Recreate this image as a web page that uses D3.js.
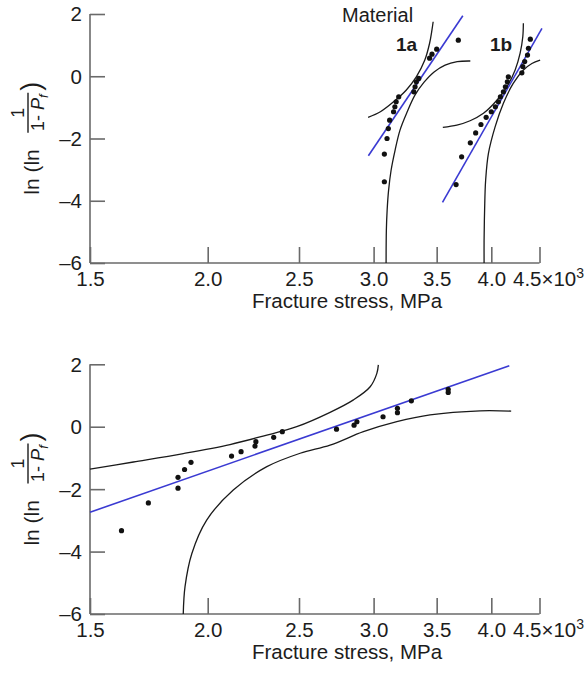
<!DOCTYPE html>
<html>
<head>
<meta charset="utf-8">
<script src="https://cdn.jsdelivr.net/npm/d3@7/dist/d3.min.js"></script>
<style>
  html, body { margin: 0; padding: 0; background: #fff; }
  svg { display: block; font-family: "Liberation Sans", Arial, Helvetica, sans-serif; }
</style>
</head>
<body>
<svg id="chart" width="587" height="675"></svg>
<script>
// Axis ticks shared by both Weibull plots
const xTickValues = [1.5, 2.0, 2.5, 3.0, 3.5, 4.0, 4.5];
const xTickLabels = ["1.5", "2.0", "2.5", "3.0", "3.5", "4.0", "4.5×10^3"];
const yTickValues = [-6, -4, -2, 0, 2];
const yTickLabels = ["–6", "–4", "–2", "0", "2"];
const xTitle = "Fracture stress, MPa";

// Upper plot: material 1a (fracture stress ×10³ MPa, ln ln 1/(1-Pf))
const stress1a = [3.08, 3.08, 3.10, 3.11, 3.12, 3.15, 3.16, 3.17, 3.19, 3.31, 3.32, 3.33, 3.35, 3.44, 3.46, 3.50, 3.69];
const weib1a   = [-3.39, -2.50, -2.00, -1.68, -1.41, -1.14, -0.98, -0.82, -0.66, -0.50, -0.34, -0.18, -0.07, 0.58, 0.71, 0.87, 1.16];
const fit1aStress = [2.962, 3.731];
const fit1aValue  = [-2.556, 1.945];
const upper1aStress = [2.96, 3.05, 3.15, 3.25, 3.33, 3.40, 3.44, 3.46, 3.47];
const upper1aValue  = [-1.32, -1.14, -0.82, -0.44, -0.02, 0.52, 1.06, 1.49, 1.75];
const lower1aStress = [3.093, 3.095, 3.101, 3.112, 3.131, 3.162, 3.20, 3.256, 3.320, 3.394, 3.478, 3.573, 3.68, 3.80];
const lower1aValue  = [-6.0, -4.95, -4.30, -3.66, -3.02, -2.37, -1.73, -1.15, -0.60, -0.19, 0.14, 0.36, 0.47, 0.49];

// Upper plot: material 1b
const stress1b = [3.67, 3.72, 3.80, 3.85, 3.90, 3.95, 4.00, 4.04, 4.07, 4.09, 4.12, 4.14, 4.16, 4.17, 4.31, 4.32, 4.34, 4.37, 4.38, 4.40];
const weib1b   = [-3.48, -2.59, -2.14, -1.82, -1.55, -1.32, -1.14, -0.98, -0.82, -0.66, -0.50, -0.34, -0.18, -0.02, 0.11, 0.31, 0.47, 0.68, 0.90, 1.19];
const fit1bStress = [3.550, 4.527];
const fit1bValue  = [-4.055, 1.54];
const upper1bStress = [3.553, 3.677, 3.798, 3.924, 4.055, 4.155, 4.24, 4.292, 4.32, 4.326];
const upper1bValue  = [-1.64, -1.57, -1.43, -1.19, -0.77, -0.34, 0.20, 0.74, 1.27, 1.70];
const lower1bStress = [3.93, 3.93, 3.935, 3.945, 3.972, 4.038, 4.12, 4.22, 4.327, 4.417, 4.507];
const lower1bValue  = [-6.0, -5.27, -4.30, -3.34, -2.48, -1.62, -0.87, -0.23, 0.20, 0.41, 0.52];

// Lower plot: single material
const stress2 = [1.62, 1.73, 1.86, 1.86, 1.89, 1.92, 2.12, 2.17, 2.245, 2.25, 2.35, 2.40, 2.74, 2.86, 2.88, 3.07, 3.18, 3.18, 3.29, 3.60, 3.60];
const weib2   = [-3.33, -2.44, -1.97, -1.62, -1.37, -1.14, -0.94, -0.80, -0.62, -0.48, -0.34, -0.16, -0.08, 0.05, 0.16, 0.32, 0.45, 0.59, 0.83, 1.10, 1.20];
const fit2Stress = [1.5, 4.18];
const fit2Value  = [-2.74, 1.955];
const upper2Stress = [1.5, 1.668, 1.884, 2.112, 2.29, 2.486, 2.697, 2.856, 2.975, 3.024, 3.035];
const upper2Value  = [-1.36, -1.13, -0.86, -0.57, -0.30, 0.0, 0.46, 0.86, 1.28, 1.71, 1.98];
const lower2Stress = [1.884, 1.892, 1.924, 1.995, 2.129, 2.311, 2.507, 2.697, 2.926, 3.175, 3.444, 3.892, 4.199];
const lower2Value  = [-6.0, -5.13, -4.06, -2.99, -2.03, -1.28, -0.85, -0.59, -0.16, 0.16, 0.38, 0.51, 0.50];

const zip = (xs, ys) => xs.map((x, i) => [x, ys[i]]);

const svg = d3.select("#chart");
const axisColor = "#6a6a6a";
const textColor = "#1c1c1c";
const fitColor = "#3a3ad2";
const fontSize = "20.5px";

const x = d3.scaleLog().domain([1.5, 4.5]).range([90, 539.5]);

function drawPanel(top, bottom, groups, labels) {
  const y = d3.scaleLinear().domain([-6, 2]).range([bottom, top]);
  const g = svg.append("g");

  // y axis: ticks point inward
  const yAxis = d3.axisRight(y).tickValues(yTickValues)
    .tickFormat((d, i) => yTickLabels[i]).tickSize(15).tickPadding(0);
  const ya = g.append("g").attr("transform", "translate(90,0)").call(yAxis);
  ya.select(".domain").attr("d", `M0,${top}V${bottom}`);
  ya.selectAll("line").attr("stroke", axisColor).attr("stroke-width", 1.6);
  ya.select(".domain").attr("stroke", axisColor).attr("stroke-width", 1.6);
  ya.selectAll("text").attr("x", -8).attr("text-anchor", "end").attr("dy", "0.34em")
    .attr("fill", textColor).style("font-size", fontSize);

  // x axis: ticks point upward, labels below the line
  const xAxis = d3.axisTop(x).tickValues(xTickValues).tickFormat(() => "").tickSize(16);
  const xa = g.append("g").attr("transform", `translate(0,${bottom})`).call(xAxis);
  xa.select(".domain").attr("d", `M90,0H${x(4.5)}`).attr("stroke", axisColor).attr("stroke-width", 1.6);
  xa.selectAll("line").attr("stroke", axisColor).attr("stroke-width", 1.6);
  xa.selectAll(".tick text").each(function (d, i) {
    const t = d3.select(this).attr("y", 22.5).attr("dy", 0)
      .attr("fill", textColor).style("font-size", fontSize);
    const [base, sup] = xTickLabels[i].split("^");
    t.append("tspan").text(base);
    if (sup) {
      t.attr("text-anchor", "start").attr("x", -27);
      t.append("tspan").attr("dy", -8).style("font-size", "14px").text(sup);
    }
  });

  // x title
  g.append("text").attr("x", 347).attr("y", bottom + 45)
    .attr("text-anchor", "middle").attr("fill", textColor)
    .style("font-size", fontSize).text(xTitle);

  // y title: ln (ln 1/(1-Pf)), written upward
  const yl = g.append("g").attr("transform", `translate(39,${y(-4) - 6}) rotate(-90)`)
    .attr("fill", textColor);
  yl.append("text").attr("x", 0).attr("y", 0).style("font-size", "21px").text("ln (ln");
  yl.append("line").attr("x1", 62).attr("x2", 102).attr("y1", -11).attr("y2", -11)
    .attr("stroke", textColor).attr("stroke-width", 1.4);
  yl.append("text").attr("x", 82).attr("y", -15).attr("text-anchor", "middle")
    .style("font-size", "18px").text("1");
  const den = yl.append("text").attr("x", 82).attr("y", 5).attr("text-anchor", "middle")
    .style("font-size", "18px");
  den.append("tspan").text("1- ");
  den.append("tspan").style("font-style", "italic").text("P");
  den.append("tspan").style("font-style", "italic").style("font-size", "13px").attr("dy", 4).text("f");
  yl.append("text").attr("x", 104).attr("y", 1).style("font-size", "27px").text(")");

  const line = d3.line().x(d => x(d[0])).y(d => y(d[1]));
  const curve = d3.line().x(d => x(d[0])).y(d => y(d[1])).curve(d3.curveCatmullRom.alpha(0.5));

  groups.forEach(s => {
    g.append("path").datum(zip(s.upperX, s.upperY)).attr("d", curve)
      .attr("fill", "none").attr("stroke", "#1a1a1a").attr("stroke-width", 1.3);
    g.append("path").datum(zip(s.lowerX, s.lowerY)).attr("d", curve)
      .attr("fill", "none").attr("stroke", "#1a1a1a").attr("stroke-width", 1.3);
    g.append("path").datum(zip(s.fitX, s.fitY)).attr("d", line)
      .attr("fill", "none").attr("stroke", fitColor).attr("stroke-width", 1.6);
    g.selectAll(null).data(zip(s.ptsX, s.ptsY)).enter().append("circle")
      .attr("cx", d => x(d[0])).attr("cy", d => y(d[1])).attr("r", 2.6).attr("fill", "#111");
  });

  labels.forEach(l => {
    g.append("text").attr("x", l.x).attr("y", l.y).attr("fill", textColor)
      .style("font-size", l.size).style("font-weight", l.weight).text(l.text);
  });
}

drawPanel(14, 263, [
  { ptsX: stress1a, ptsY: weib1a, fitX: fit1aStress, fitY: fit1aValue,
    upperX: upper1aStress, upperY: upper1aValue, lowerX: lower1aStress, lowerY: lower1aValue },
  { ptsX: stress1b, ptsY: weib1b, fitX: fit1bStress, fitY: fit1bValue,
    upperX: upper1bStress, upperY: upper1bValue, lowerX: lower1bStress, lowerY: lower1bValue }
], [
  { text: "Material", x: 342, y: 22, size: "20px", weight: "normal" },
  { text: "1a", x: 396, y: 51, size: "19px", weight: "bold" },
  { text: "1b", x: 490, y: 51, size: "19px", weight: "bold" }
]);

drawPanel(364.3, 614, [
  { ptsX: stress2, ptsY: weib2, fitX: fit2Stress, fitY: fit2Value,
    upperX: upper2Stress, upperY: upper2Value, lowerX: lower2Stress, lowerY: lower2Value }
], []);
</script>
</body>
</html>
